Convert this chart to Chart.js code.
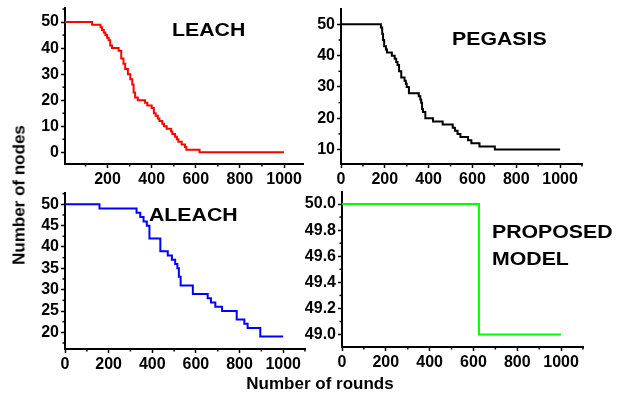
<!DOCTYPE html>
<html>
<head>
<meta charset="utf-8">
<script src="https://cdn.jsdelivr.net/npm/chart.js@4.4.0/dist/chart.umd.min.js"></script>
<style>
  body { margin: 0; background: #fff; }
  #wrap { position: relative; width: 627px; height: 395px; overflow: hidden; font-family: "Liberation Sans", Arial, sans-serif; }
  #wrap canvas { position: absolute; left: 0; top: 0; }
  .lbl { position: absolute; font-weight: bold; font-size: 19px; line-height: 19px; white-space: nowrap; transform: scaleX(1.12); transform-origin: left top; color: #000; }
  .axt { position: absolute; font-weight: bold; font-size: 17px; line-height: 17px; white-space: nowrap; color: #000; }
</style>
</head>
<body>
<div id="wrap">
  <canvas id="leachChart" width="627" height="395"></canvas>
  <canvas id="pegasisChart" width="627" height="395"></canvas>
  <canvas id="aleachChart" width="627" height="395"></canvas>
  <canvas id="proposedChart" width="627" height="395"></canvas>

  <div class="lbl" style="left:172px; top:20px;">LEACH</div>
  <div class="lbl" style="left:452px; top:29px;">PEGASIS</div>
  <div class="lbl" style="left:149px; top:205px;">ALEACH</div>
  <div class="lbl" style="left:492px; top:222px;">PROPOSED</div>
  <div class="lbl" style="left:492px; top:249px;">MODEL</div>

  <div class="axt" style="left:220px; top:375px; width:200px; text-align:center;">Number of rounds</div>
  <div class="axt" style="left:19px; top:195px; transform: translate(-50%, -50%) rotate(-90deg);">Number of nodes</div>
</div>

<script>
// LEACH
const leachRounds = [0, 130, 168, 175, 183, 190, 198, 205, 212, 220, 250, 262, 272, 280, 292, 303, 312, 318, 325, 337, 370, 380, 400, 410, 418, 428, 435, 448, 456, 468, 488, 494, 506, 514, 521, 536, 551, 557, 617, 1000];
const leachNodes  = [50, 49, 48, 47, 46, 45, 44, 43, 41, 40, 39, 36, 34, 32, 30, 28, 26, 23, 21, 20, 19, 18, 17, 15, 14, 13, 12, 11, 10, 9, 8, 7, 6, 5, 4, 3, 2, 1, 0, 0];

// PEGASIS
const pegasisRounds = [0, 182, 188, 192, 197, 205, 210, 232, 245, 252, 258, 265, 275, 290, 296, 300, 310, 355, 362, 366, 370, 374, 385, 420, 464, 510, 520, 532, 545, 580, 595, 632, 702, 1000];
const pegasisNodes  = [50, 49, 47, 45, 43, 42, 41, 40, 39, 38, 37, 35, 33, 32, 31, 30, 28, 27, 26, 25, 23, 22, 20, 19, 18, 17, 16, 15, 14, 13, 12, 11, 10, 10];

// ALEACH
const aleachRounds = [0, 158, 328, 345, 360, 375, 387, 437, 471, 490, 505, 515, 522, 530, 586, 654, 669, 689, 720, 787, 822, 837, 895, 1000];
const aleachNodes  = [50, 49, 48, 47, 46, 45, 42, 39, 38, 37, 36, 35, 33, 31, 29, 28, 27, 26, 25, 23, 22, 21, 19, 19];

// Proposed model
const proposedRounds = [0, 625, 1000];
const proposedNodes  = [50, 49, 49];

// tick labels
const roundTicksNoZero = [200, 400, 600, 800, 1000];
const roundTicks = [0, 200, 400, 600, 800, 1000];
const leachTicks = [0, 10, 20, 30, 40, 50];
const pegasisTicks = [10, 20, 30, 40, 50];
const aleachTicks = [20, 25, 30, 35, 40, 45, 50];
const proposedTicks = [49.0, 49.2, 49.4, 49.6, 49.8, 50.0];

const tickFont = { family: "'Liberation Sans', Arial, sans-serif", size: 16, weight: 'bold' };

// small unlabeled ticks halfway between the labelled ones
const minorTicks = {
  id: 'minorTicks',
  afterDraw(chart) {
    const ctx = chart.ctx;
    ctx.save();
    ctx.strokeStyle = '#000';
    ctx.lineWidth = 1.5;
    ['x', 'y'].forEach((key) => {
      const s = chart.scales[key];
      const vals = s.ticks.map((t) => t.value);
      if (vals.length < 2) return;
      const step = vals[1] - vals[0];
      for (let v = vals[0] - step / 2; v <= s.max + 1e-9; v += step) {
        if (v < s.min) continue;
        const p = s.getPixelForValue(v);
        ctx.beginPath();
        if (key === 'x') {
          ctx.moveTo(p, s.top);
          ctx.lineTo(p, s.top + 2.5);
        } else {
          ctx.moveTo(s.right, p);
          ctx.lineTo(s.right - 2.5, p);
        }
        ctx.stroke();
      }
    });
    ctx.restore();
  },
};

function axis(min, max, tickValues, fmt, isX) {
  return {
    type: 'linear',
    min: min,
    max: max,
    afterBuildTicks: (s) => {
      s.ticks = tickValues.map((v) => ({ value: v }));
    },
    afterFit: (s) => {
      if (isX) s.height = 25;
      else s.width = 40;
      s.paddingTop = 0;
      s.paddingBottom = 0;
      s.paddingLeft = 0;
      s.paddingRight = 0;
    },
    grid: { display: true, drawOnChartArea: false, drawTicks: true, tickLength: 4, tickColor: '#000', tickWidth: 1.5 },
    border: { display: true, color: '#000', width: 2 },
    ticks: {
      color: '#000',
      font: tickFont,
      padding: 2,
      maxRotation: 0,
      autoSkip: false,
      callback: fmt,
    },
  };
}

function makePanel(id, rounds, nodes, color, cfg) {
  const points = rounds.map((r, i) => ({ x: r, y: nodes[i] }));
  return new Chart(document.getElementById(id), {
    type: 'line',
    data: {
      datasets: [
        {
          data: points,
          borderColor: color,
          borderWidth: 2,
          pointRadius: 0,
          stepped: 'before',
          fill: false,
        },
      ],
    },
    options: {
      responsive: false,
      animation: false,
      layout: { padding: cfg.pad },
      plugins: { legend: { display: false }, tooltip: { enabled: false } },
      scales: {
        x: axis(cfg.xMin, cfg.xMax, cfg.xTicks, (v) => v, true),
        y: axis(cfg.yMin, cfg.yMax, cfg.yTicks, cfg.yFmt || ((v) => v), false),
      },
    },
    plugins: [minorTicks],
  });
}

makePanel('leachChart', leachRounds, leachNodes, '#ff0000', {
  pad: { left: 25, right: 324, top: 8, bottom: 206 },
  xMin: 7, xMax: 1086, xTicks: roundTicksNoZero,
  yMin: -4.5, yMax: 55.4, yTicks: leachTicks,
});

makePanel('pegasisChart', pegasisRounds, pegasisNodes, '#000000', {
  pad: { left: 301, right: 45, top: 9, bottom: 206 },
  xMin: 0, xMax: 1100, xTicks: roundTicks,
  yMin: 5.4, yMax: 54.9, yTicks: pegasisTicks,
});

makePanel('aleachChart', aleachRounds, aleachNodes, '#0000ff', {
  pad: { left: 25, right: 322, top: 193, bottom: 21 },
  xMin: 0, xMax: 1100, xTicks: roundTicks,
  yMin: 16.1, yMax: 52.65, yTicks: aleachTicks,
});

makePanel('proposedChart', proposedRounds, proposedNodes, '#00ff00', {
  pad: { left: 302, right: 44, top: 192, bottom: 23 },
  xMin: 0, xMax: 1100, xTicks: roundTicks,
  yMin: 48.905, yMax: 50.092, yTicks: proposedTicks,
  yFmt: (v) => v.toFixed(1),
});
</script>
</body>
</html>
